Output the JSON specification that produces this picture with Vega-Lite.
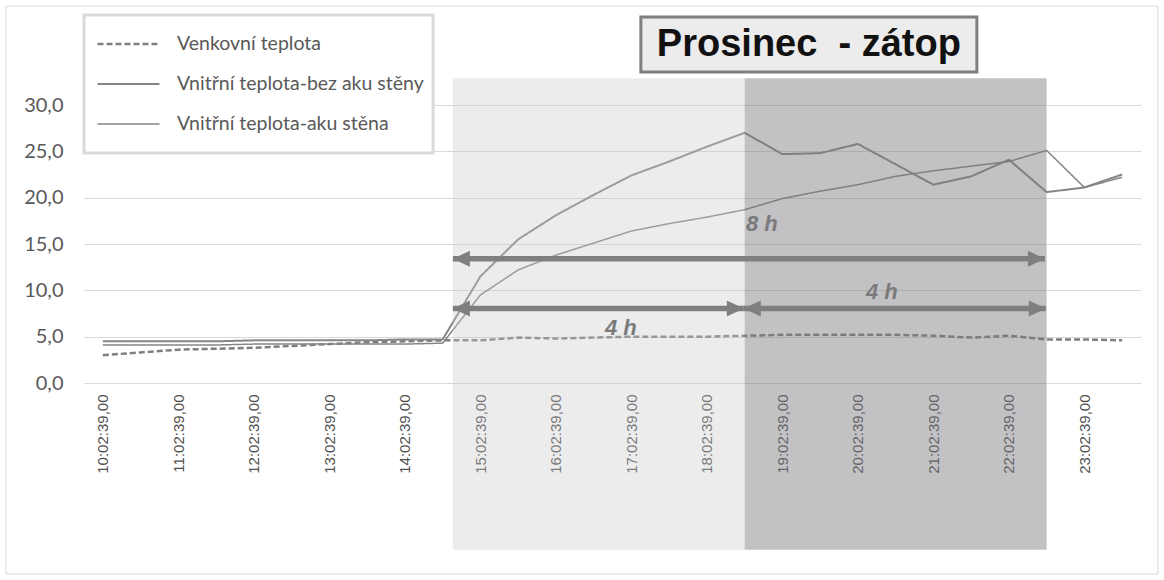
{
  "$schema": "https://vega.github.io/schema/vega-lite/v6.json",
  "autosize": {"type": "none"},
  "padding": {"left": 84, "top": 105, "right": 23, "bottom": 197},
  "width": 1057,
  "height": 278,
  "background": "#ffffff",
  "config": {
    "view": {"stroke": null},
    "axis": {"zindex": 0}
  },
  "datasets": {
    "teploty": [
      {"t": "2020-12-01T10:02:39", "serie": "Venkovní teplota", "hodnota": 3.0},
      {"t": "2020-12-01T10:32:39", "serie": "Venkovní teplota", "hodnota": 3.3},
      {"t": "2020-12-01T11:02:39", "serie": "Venkovní teplota", "hodnota": 3.6},
      {"t": "2020-12-01T11:32:39", "serie": "Venkovní teplota", "hodnota": 3.7},
      {"t": "2020-12-01T12:02:39", "serie": "Venkovní teplota", "hodnota": 3.8},
      {"t": "2020-12-01T12:32:39", "serie": "Venkovní teplota", "hodnota": 4.0},
      {"t": "2020-12-01T13:02:39", "serie": "Venkovní teplota", "hodnota": 4.2},
      {"t": "2020-12-01T13:32:39", "serie": "Venkovní teplota", "hodnota": 4.4},
      {"t": "2020-12-01T14:02:39", "serie": "Venkovní teplota", "hodnota": 4.5},
      {"t": "2020-12-01T14:32:39", "serie": "Venkovní teplota", "hodnota": 4.6},
      {"t": "2020-12-01T15:02:39", "serie": "Venkovní teplota", "hodnota": 4.6},
      {"t": "2020-12-01T15:32:39", "serie": "Venkovní teplota", "hodnota": 4.9},
      {"t": "2020-12-01T16:02:39", "serie": "Venkovní teplota", "hodnota": 4.8},
      {"t": "2020-12-01T16:32:39", "serie": "Venkovní teplota", "hodnota": 4.9},
      {"t": "2020-12-01T17:02:39", "serie": "Venkovní teplota", "hodnota": 5.0},
      {"t": "2020-12-01T17:32:39", "serie": "Venkovní teplota", "hodnota": 5.0},
      {"t": "2020-12-01T18:02:39", "serie": "Venkovní teplota", "hodnota": 5.0},
      {"t": "2020-12-01T18:32:39", "serie": "Venkovní teplota", "hodnota": 5.1},
      {"t": "2020-12-01T19:02:39", "serie": "Venkovní teplota", "hodnota": 5.2},
      {"t": "2020-12-01T19:32:39", "serie": "Venkovní teplota", "hodnota": 5.2},
      {"t": "2020-12-01T20:02:39", "serie": "Venkovní teplota", "hodnota": 5.2},
      {"t": "2020-12-01T20:32:39", "serie": "Venkovní teplota", "hodnota": 5.2},
      {"t": "2020-12-01T21:02:39", "serie": "Venkovní teplota", "hodnota": 5.1},
      {"t": "2020-12-01T21:32:39", "serie": "Venkovní teplota", "hodnota": 4.9},
      {"t": "2020-12-01T22:02:39", "serie": "Venkovní teplota", "hodnota": 5.1},
      {"t": "2020-12-01T22:32:39", "serie": "Venkovní teplota", "hodnota": 4.7},
      {"t": "2020-12-01T23:02:39", "serie": "Venkovní teplota", "hodnota": 4.7},
      {"t": "2020-12-01T23:32:39", "serie": "Venkovní teplota", "hodnota": 4.6},
      {"t": "2020-12-01T10:02:39", "serie": "Vnitřní teplota-bez aku stěny", "hodnota": 4.5},
      {"t": "2020-12-01T10:32:39", "serie": "Vnitřní teplota-bez aku stěny", "hodnota": 4.5},
      {"t": "2020-12-01T11:02:39", "serie": "Vnitřní teplota-bez aku stěny", "hodnota": 4.5},
      {"t": "2020-12-01T11:32:39", "serie": "Vnitřní teplota-bez aku stěny", "hodnota": 4.5},
      {"t": "2020-12-01T12:02:39", "serie": "Vnitřní teplota-bez aku stěny", "hodnota": 4.6},
      {"t": "2020-12-01T12:32:39", "serie": "Vnitřní teplota-bez aku stěny", "hodnota": 4.6},
      {"t": "2020-12-01T13:02:39", "serie": "Vnitřní teplota-bez aku stěny", "hodnota": 4.6},
      {"t": "2020-12-01T13:32:39", "serie": "Vnitřní teplota-bez aku stěny", "hodnota": 4.6},
      {"t": "2020-12-01T14:02:39", "serie": "Vnitřní teplota-bez aku stěny", "hodnota": 4.7},
      {"t": "2020-12-01T14:32:39", "serie": "Vnitřní teplota-bez aku stěny", "hodnota": 4.7},
      {"t": "2020-12-01T15:02:39", "serie": "Vnitřní teplota-bez aku stěny", "hodnota": 11.5},
      {"t": "2020-12-01T15:32:39", "serie": "Vnitřní teplota-bez aku stěny", "hodnota": 15.5},
      {"t": "2020-12-01T16:02:39", "serie": "Vnitřní teplota-bez aku stěny", "hodnota": 18.1},
      {"t": "2020-12-01T16:32:39", "serie": "Vnitřní teplota-bez aku stěny", "hodnota": 20.3},
      {"t": "2020-12-01T17:02:39", "serie": "Vnitřní teplota-bez aku stěny", "hodnota": 22.4},
      {"t": "2020-12-01T17:32:39", "serie": "Vnitřní teplota-bez aku stěny", "hodnota": 23.9},
      {"t": "2020-12-01T18:02:39", "serie": "Vnitřní teplota-bez aku stěny", "hodnota": 25.5},
      {"t": "2020-12-01T18:32:39", "serie": "Vnitřní teplota-bez aku stěny", "hodnota": 27.0},
      {"t": "2020-12-01T19:02:39", "serie": "Vnitřní teplota-bez aku stěny", "hodnota": 24.7},
      {"t": "2020-12-01T19:32:39", "serie": "Vnitřní teplota-bez aku stěny", "hodnota": 24.8},
      {"t": "2020-12-01T20:02:39", "serie": "Vnitřní teplota-bez aku stěny", "hodnota": 25.8},
      {"t": "2020-12-01T20:32:39", "serie": "Vnitřní teplota-bez aku stěny", "hodnota": 23.6},
      {"t": "2020-12-01T21:02:39", "serie": "Vnitřní teplota-bez aku stěny", "hodnota": 21.4},
      {"t": "2020-12-01T21:32:39", "serie": "Vnitřní teplota-bez aku stěny", "hodnota": 22.3},
      {"t": "2020-12-01T22:02:39", "serie": "Vnitřní teplota-bez aku stěny", "hodnota": 24.1},
      {"t": "2020-12-01T22:32:39", "serie": "Vnitřní teplota-bez aku stěny", "hodnota": 20.6},
      {"t": "2020-12-01T23:02:39", "serie": "Vnitřní teplota-bez aku stěny", "hodnota": 21.1},
      {"t": "2020-12-01T23:32:39", "serie": "Vnitřní teplota-bez aku stěny", "hodnota": 22.5},
      {"t": "2020-12-01T10:02:39", "serie": "Vnitřní teplota-aku stěna", "hodnota": 4.1},
      {"t": "2020-12-01T10:32:39", "serie": "Vnitřní teplota-aku stěna", "hodnota": 4.1},
      {"t": "2020-12-01T11:02:39", "serie": "Vnitřní teplota-aku stěna", "hodnota": 4.1},
      {"t": "2020-12-01T11:32:39", "serie": "Vnitřní teplota-aku stěna", "hodnota": 4.1},
      {"t": "2020-12-01T12:02:39", "serie": "Vnitřní teplota-aku stěna", "hodnota": 4.2},
      {"t": "2020-12-01T12:32:39", "serie": "Vnitřní teplota-aku stěna", "hodnota": 4.2},
      {"t": "2020-12-01T13:02:39", "serie": "Vnitřní teplota-aku stěna", "hodnota": 4.2},
      {"t": "2020-12-01T13:32:39", "serie": "Vnitřní teplota-aku stěna", "hodnota": 4.2},
      {"t": "2020-12-01T14:02:39", "serie": "Vnitřní teplota-aku stěna", "hodnota": 4.2},
      {"t": "2020-12-01T14:32:39", "serie": "Vnitřní teplota-aku stěna", "hodnota": 4.3},
      {"t": "2020-12-01T15:02:39", "serie": "Vnitřní teplota-aku stěna", "hodnota": 9.5},
      {"t": "2020-12-01T15:32:39", "serie": "Vnitřní teplota-aku stěna", "hodnota": 12.2},
      {"t": "2020-12-01T16:02:39", "serie": "Vnitřní teplota-aku stěna", "hodnota": 13.8},
      {"t": "2020-12-01T16:32:39", "serie": "Vnitřní teplota-aku stěna", "hodnota": 15.1},
      {"t": "2020-12-01T17:02:39", "serie": "Vnitřní teplota-aku stěna", "hodnota": 16.4},
      {"t": "2020-12-01T17:32:39", "serie": "Vnitřní teplota-aku stěna", "hodnota": 17.2},
      {"t": "2020-12-01T18:02:39", "serie": "Vnitřní teplota-aku stěna", "hodnota": 17.9},
      {"t": "2020-12-01T18:32:39", "serie": "Vnitřní teplota-aku stěna", "hodnota": 18.7},
      {"t": "2020-12-01T19:02:39", "serie": "Vnitřní teplota-aku stěna", "hodnota": 19.9},
      {"t": "2020-12-01T19:32:39", "serie": "Vnitřní teplota-aku stěna", "hodnota": 20.7},
      {"t": "2020-12-01T20:02:39", "serie": "Vnitřní teplota-aku stěna", "hodnota": 21.4},
      {"t": "2020-12-01T20:32:39", "serie": "Vnitřní teplota-aku stěna", "hodnota": 22.3},
      {"t": "2020-12-01T21:02:39", "serie": "Vnitřní teplota-aku stěna", "hodnota": 22.9},
      {"t": "2020-12-01T21:32:39", "serie": "Vnitřní teplota-aku stěna", "hodnota": 23.4},
      {"t": "2020-12-01T22:02:39", "serie": "Vnitřní teplota-aku stěna", "hodnota": 23.9},
      {"t": "2020-12-01T22:32:39", "serie": "Vnitřní teplota-aku stěna", "hodnota": 25.1},
      {"t": "2020-12-01T23:02:39", "serie": "Vnitřní teplota-aku stěna", "hodnota": 21.1},
      {"t": "2020-12-01T23:32:39", "serie": "Vnitřní teplota-aku stěna", "hodnota": 22.2}
    ],
    "pasma": [
      {"od": "2020-12-01T14:40:48", "do": "2020-12-01T18:32:39", "typ": "4 h topení"},
      {"od": "2020-12-01T18:32:39", "do": "2020-12-01T22:32:39", "typ": "4 h dalších"}
    ],
    "sipky": [
      {"od": "2020-12-01T14:40:48", "do": "2020-12-01T22:31:20", "uroven": 13.4},
      {"od": "2020-12-01T14:40:48", "do": "2020-12-01T18:32:00", "uroven": 8.05},
      {"od": "2020-12-01T18:32:00", "do": "2020-12-01T22:32:00", "uroven": 8.05}
    ],
    "popisky": [
      {"t": "2020-12-01T18:46:20", "uroven": 17.2, "text": "8 h"},
      {"t": "2020-12-01T16:54:19", "uroven": 5.9, "text": "4 h"},
      {"t": "2020-12-01T20:21:44", "uroven": 9.85, "text": "4 h"}
    ]
  },
  "layer": [
    {
      "data": {"name": "teploty"},
      "mark": {"type": "line", "strokeJoin": "round"},
      "encoding": {
        "x": {
          "field": "t", "type": "temporal", "title": null,
          "scale": {"domain": [
            {"year": 2020, "month": 12, "date": 1, "hours": 9, "minutes": 47, "seconds": 39},
            {"year": 2020, "month": 12, "date": 1, "hours": 23, "minutes": 47, "seconds": 39}
          ]},
          "axis": {
            "values": [
              {"year": 2020, "month": 12, "date": 1, "hours": 10, "minutes": 2, "seconds": 39},
              {"year": 2020, "month": 12, "date": 1, "hours": 11, "minutes": 2, "seconds": 39},
              {"year": 2020, "month": 12, "date": 1, "hours": 12, "minutes": 2, "seconds": 39},
              {"year": 2020, "month": 12, "date": 1, "hours": 13, "minutes": 2, "seconds": 39},
              {"year": 2020, "month": 12, "date": 1, "hours": 14, "minutes": 2, "seconds": 39},
              {"year": 2020, "month": 12, "date": 1, "hours": 15, "minutes": 2, "seconds": 39},
              {"year": 2020, "month": 12, "date": 1, "hours": 16, "minutes": 2, "seconds": 39},
              {"year": 2020, "month": 12, "date": 1, "hours": 17, "minutes": 2, "seconds": 39},
              {"year": 2020, "month": 12, "date": 1, "hours": 18, "minutes": 2, "seconds": 39},
              {"year": 2020, "month": 12, "date": 1, "hours": 19, "minutes": 2, "seconds": 39},
              {"year": 2020, "month": 12, "date": 1, "hours": 20, "minutes": 2, "seconds": 39},
              {"year": 2020, "month": 12, "date": 1, "hours": 21, "minutes": 2, "seconds": 39},
              {"year": 2020, "month": 12, "date": 1, "hours": 22, "minutes": 2, "seconds": 39},
              {"year": 2020, "month": 12, "date": 1, "hours": 23, "minutes": 2, "seconds": 39}
            ],
            "format": "%H:%M:%S,00",
            "labelAngle": -90,
            "labelFont": "Liberation Sans",
            "labelFontSize": 15,
            "labelColor": "#505050",
            "labelPadding": 11,
            "labelOverlap": false,
            "labelFlush": false,
            "grid": false,
            "ticks": false,
            "tickSize": 0,
            "domain": false
          }
        },
        "y": {
          "field": "hodnota", "type": "quantitative", "title": null,
          "scale": {"domain": [0, 30], "nice": false, "zero": false},
          "axis": {
            "values": [0, 5, 10, 15, 20, 25, 30],
            "labelExpr": "replace(format(datum.value, '.1f'), '.', ',')",
            "labelFont": "Lato",
            "labelFontSize": 20,
            "labelColor": "#595959",
            "labelPadding": 21,
            "gridColor": "#d9d9d9",
            "gridWidth": 1,
            "domain": false,
            "ticks": false,
            "tickSize": 0
          }
        },
        "color": {
          "field": "serie", "type": "nominal",
          "scale": {
            "domain": ["Venkovní teplota", "Vnitřní teplota-bez aku stěny", "Vnitřní teplota-aku stěna"],
            "range": ["#7f7f7f", "#858585", "#858585"]
          },
          "legend": {
            "orient": "none",
            "legendX": 0,
            "legendY": -90,
            "title": null,
            "fillColor": "#ffffff",
            "strokeColor": "#d9d9d9",
            "padding": 9,
            "symbolType": "stroke",
            "symbolSize": 3844,
            "symbolStrokeWidth": 1.5,
            "symbolOffset": 3,
            "labelOffset": 16,
            "labelFont": "Lato",
            "labelFontSize": 19.5,
            "labelColor": "#595959",
            "labelLimit": 400,
            "clipHeight": 40,
            "rowPadding": 0,
            "encode": {"legend": {"update": {"strokeWidth": {"value": 3}}}}
          }
        },
        "strokeDash": {
          "field": "serie", "type": "nominal",
          "scale": {
            "domain": ["Venkovní teplota", "Vnitřní teplota-bez aku stěny", "Vnitřní teplota-aku stěna"],
            "range": [[6, 3], [1, 0], [1, 0]]
          }
        },
        "strokeWidth": {
          "field": "serie", "type": "nominal",
          "scale": {
            "domain": ["Venkovní teplota", "Vnitřní teplota-bez aku stěny", "Vnitřní teplota-aku stěna"],
            "range": [2.5, 1.5, 1.5]
          },
          "legend": null
        }
      }
    },
    {
      "data": {"name": "pasma"},
      "transform": [{"filter": "datum.typ == '4 h topení'"}],
      "mark": {"type": "rect", "fill": "#c8c8cc", "opacity": 0.35},
      "encoding": {
        "x": {"field": "od", "type": "temporal", "title": null},
        "x2": {"field": "do"},
        "y": {"datum": 32.9, "type": "quantitative", "title": null},
        "y2": {"datum": -18.0}
      }
    },
    {
      "data": {"name": "pasma"},
      "transform": [{"filter": "datum.typ == '4 h dalších'"}],
      "mark": {"type": "rect", "fill": "#7b7b80", "opacity": 0.46},
      "encoding": {
        "x": {"field": "od", "type": "temporal", "title": null},
        "x2": {"field": "do"},
        "y": {"datum": 32.9, "type": "quantitative", "title": null},
        "y2": {"datum": -18.0}
      }
    },
    {
      "data": {"name": "sipky"},
      "mark": {"type": "rule", "stroke": "#7f7f7f", "strokeWidth": 5.5},
      "encoding": {
        "x": {"field": "od", "type": "temporal", "title": null},
        "x2": {"field": "do"},
        "y": {"field": "uroven", "type": "quantitative", "title": null}
      }
    },
    {
      "data": {"name": "sipky"},
      "mark": {"type": "point", "shape": "M0,0L1,-0.47L1,0.47Z", "filled": true, "fill": "#7f7f7f", "strokeWidth": 0, "size": 1156, "opacity": 1},
      "encoding": {
        "x": {"field": "od", "type": "temporal", "title": null},
        "y": {"field": "uroven", "type": "quantitative", "title": null}
      }
    },
    {
      "data": {"name": "sipky"},
      "mark": {"type": "point", "shape": "M0,0L-1,-0.47L-1,0.47Z", "filled": true, "fill": "#7f7f7f", "strokeWidth": 0, "size": 1156, "opacity": 1},
      "encoding": {
        "x": {"field": "do", "type": "temporal", "title": null},
        "y": {"field": "uroven", "type": "quantitative", "title": null}
      }
    },
    {
      "data": {"name": "popisky"},
      "mark": {"type": "text", "font": "Liberation Sans", "fontSize": 22, "fontWeight": "bold", "fontStyle": "italic", "fill": "#7a7a7a", "align": "center", "baseline": "middle"},
      "encoding": {
        "x": {"field": "t", "type": "temporal", "title": null},
        "y": {"field": "uroven", "type": "quantitative", "title": null},
        "text": {"field": "text"}
      }
    },
    {
      "data": {"values": [{"nazev": "Prosinec\u00a0 - zátop"}]},
      "mark": {"type": "rect", "fill": "#ececec", "stroke": "#7f7f7f", "strokeWidth": 3},
      "encoding": {
        "x": {"datum": {"year": 2020, "month": 12, "date": 1, "hours": 17, "minutes": 10, "seconds": 12}, "type": "temporal", "title": null},
        "x2": {"datum": {"year": 2020, "month": 12, "date": 1, "hours": 21, "minutes": 37, "seconds": 13}},
        "y": {"datum": 39.5, "type": "quantitative", "title": null},
        "y2": {"datum": 33.56}
      }
    },
    {
      "data": {"values": [{"nazev": "Prosinec\u00a0 - zátop"}]},
      "mark": {"type": "text", "font": "Liberation Sans", "fontSize": 38, "fontWeight": "bold", "fill": "#111111", "align": "center", "baseline": "middle", "dy": 1},
      "encoding": {
        "x": {"datum": {"year": 2020, "month": 12, "date": 1, "hours": 19, "minutes": 23, "seconds": 43}, "type": "temporal", "title": null},
        "y": {"datum": 36.53, "type": "quantitative", "title": null},
        "text": {"field": "nazev"}
      }
    },
    {
      "data": {"values": [{}]},
      "mark": {"type": "rect", "fill": null, "fillOpacity": 0, "stroke": "#d9d9d9", "strokeWidth": 1},
      "encoding": {
        "x": {"datum": {"year": 2020, "month": 12, "date": 1, "hours": 8, "minutes": 45, "seconds": 37}, "type": "temporal", "title": null},
        "x2": {"datum": {"year": 2020, "month": 12, "date": 2, "hours": 0, "minutes": 1, "seconds": 9}},
        "y": {"datum": 40.68, "type": "quantitative", "title": null},
        "y2": {"datum": -20.61}
      }
    }
  ]
}
